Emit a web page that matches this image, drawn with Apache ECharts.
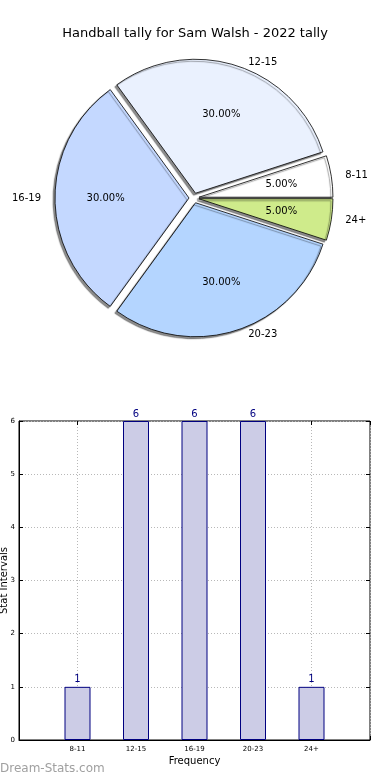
<!DOCTYPE html>
<html>
<head>
<meta charset="utf-8">
<script src="https://cdn.jsdelivr.net/npm/echarts@6/dist/echarts.min.js"></script>
<style>html,body{margin:0;padding:0;background:#fff}#c{width:390px;height:780px}</style>
</head>
<body>
<div id="c"></div>
<script>
var categories = ['8-11', '12-15', '16-19', '20-23', '24+'];
var counts = [1, 6, 6, 6, 1];
var sliceColors = ['#ffffff', '#eaf1fe', '#c4d8ff', '#b4d5ff', '#cfeb8b'];
var yTicks = [0, 1, 2, 3, 4, 5, 6];
var titleText = 'Handball tally for Sam Walsh - 2022 tally';

var FONT = 'DejaVu Sans';
var R = 134;
var CX = 194, CY = 198;

var pieData = categories.map(function (c, i) {
  return { name: c, value: counts[i], selected: true, itemStyle: { color: sliceColors[i] } };
});
var pieDataHidden = categories.map(function (c, i) {
  return { name: c, value: counts[i], selected: true };
});

var chart = echarts.init(document.getElementById('c'), null, { renderer: 'canvas' });
chart.setOption({
  animation: false,
  backgroundColor: '#fff',
  textStyle: { fontFamily: FONT },
  title: {
    text: titleText, left: 'center', top: 22,
    textStyle: { fontFamily: FONT, fontSize: 13, fontWeight: 'normal', color: '#000' }
  },
  graphic: [{
    type: 'text', left: 0, top: 763,
    style: { text: 'Dream-Stats.com', font: '12px "DejaVu Sans"', fill: '#a0a0a0' }
  }],
  grid: {
    left: 19, right: 20, top: 421, bottom: 40,
    show: true, borderColor: '#000', borderWidth: 1,
    containLabel: false, outerBoundsMode: 'none'
  },
  xAxis: [{
    type: 'value', min: -1, max: 5, interval: 1, position: 'bottom',
    name: 'Frequency', nameLocation: 'middle', nameGap: 16, nameMoveOverlap: false,
    nameTextStyle: { fontFamily: FONT, fontSize: 10, color: '#000' },
    axisLine: { show: true, onZero: false, lineStyle: { color: '#000', width: 1 } },
    axisTick: { show: true, inside: true, length: 4, lineStyle: { color: '#000' } },
    axisLabel: {
      fontFamily: FONT, fontSize: 7, color: '#000', margin: 6,
      formatter: function (v) { return categories[v] !== undefined ? categories[v] : ''; }
    },
    splitLine: { show: true, lineStyle: { color: '#b8b8b8', type: [1, 2], width: 1 } }
  }, {
    type: 'value', min: -1, max: 5, interval: 1, position: 'top',
    axisLine: { show: false, onZero: false }, axisLabel: { show: false }, splitLine: { show: false },
    axisTick: { show: true, inside: true, length: 4, lineStyle: { color: '#000' } }
  }],
  yAxis: [{
    type: 'value', min: 0, max: 6, interval: 1, position: 'left',
    name: 'Stat Intervals', nameLocation: 'middle', nameGap: 10, nameRotate: 90, nameMoveOverlap: false,
    nameTextStyle: { fontFamily: FONT, fontSize: 10, color: '#000' },
    axisLine: { show: true, onZero: false, lineStyle: { color: '#000', width: 1 } },
    axisTick: { show: true, inside: true, length: 4, lineStyle: { color: '#000' } },
    axisLabel: {
      fontFamily: FONT, fontSize: 7, color: '#000', margin: 4,
      formatter: function (v) { return yTicks.indexOf(v) >= 0 ? String(v) : ''; }
    },
    splitLine: { show: true, lineStyle: { color: '#b8b8b8', type: [1, 2], width: 1 } }
  }, {
    type: 'value', min: 0, max: 6, interval: 1, position: 'right',
    axisLine: { show: false, onZero: false }, axisLabel: { show: false }, splitLine: { show: false },
    axisTick: { show: true, inside: true, length: 4, lineStyle: { color: '#000' } }
  }],
  series: [{
    type: 'pie',
    center: [CX, CY], radius: [0, R],
    startAngle: 0, clockwise: false,
    selectedMode: 'multiple', selectedOffset: 5,
    avoidLabelOverlap: false,
    silent: true,
    itemStyle: {
      borderColor: '#000', borderWidth: 0.8,
      shadowColor: 'rgba(0,0,0,0.45)', shadowBlur: 1, shadowOffsetX: -2, shadowOffsetY: 2
    },
    label: {
      show: true, position: 'outside', formatter: '{b}',
      fontFamily: FONT, fontSize: 10, color: '#000', distanceToLabelLine: 0
    },
    labelLine: { show: false, length: 4, length2: 10 },
    emphasis: { disabled: true },
    select: { itemStyle: { borderColor: '#000', borderWidth: 0.8 } },
    data: pieData
  }, {
    type: 'pie',
    center: [CX, CY], radius: [R * 0.2, R],
    startAngle: 0, clockwise: false,
    selectedMode: 'multiple', selectedOffset: 5,
    avoidLabelOverlap: false,
    silent: true,
    itemStyle: { color: 'rgba(0,0,0,0)', borderWidth: 0 },
    select: { itemStyle: { color: 'rgba(0,0,0,0)', borderWidth: 0 } },
    label: {
      show: true, position: 'inside',
      formatter: function (p) { return p.percent.toFixed(2) + '%'; },
      fontFamily: FONT, fontSize: 10, color: '#000'
    },
    labelLine: { show: false },
    emphasis: { disabled: true },
    data: pieDataHidden
  }, {
    type: 'bar',
    xAxisIndex: 0, yAxisIndex: 0,
    barWidth: 26,
    itemStyle: { color: '#ccccE6', borderColor: '#000080', borderWidth: 1 },
    label: { show: true, position: 'top', distance: 2, fontFamily: FONT, fontSize: 10, color: '#000080' },
    emphasis: { disabled: true },
    data: categories.map(function (c, i) { return [i, counts[i]]; })
  }]
});
</script>
</body>
</html>
